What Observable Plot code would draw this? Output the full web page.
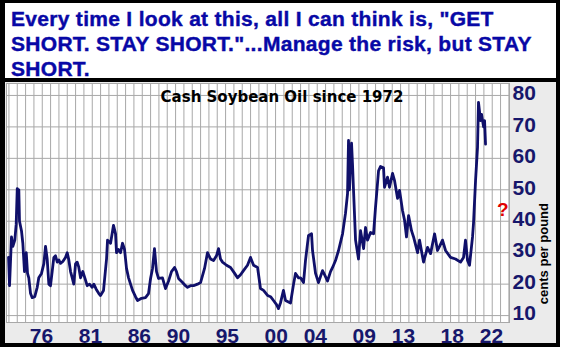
<!DOCTYPE html>
<html>
<head>
<meta charset="utf-8">
<script src="https://cdn.jsdelivr.net/npm/d3@7"></script>
<script src="https://cdn.jsdelivr.net/npm/@observablehq/plot@0.6"></script>
<style>
  html, body { margin: 0; padding: 0; background: #ffffff; }
  body { width: 563px; height: 352px; position: relative; overflow: hidden; }
  #frame { position: absolute; left: 0; top: 0; width: 560px; height: 347px; box-sizing: border-box;
           border-style: solid; border-color: #000; border-width: 3px 4px 4px 5px; background: #ebebeb; }
  #title { height: 79px; box-sizing: border-box; border-bottom: 4px solid #000; background: #fff;
           padding: 3px 0 0 6px; font-family: "Liberation Sans", Arial, sans-serif; font-weight: bold;
           font-size: 21px; line-height: 25px; letter-spacing: 0.3px; color: #0808a6; white-space: nowrap;
           -webkit-text-stroke: 0.4px #0808a6; }
  #chart { position: relative; height: 261px; }
  #chart svg { display: block; }
  #qmark { position: absolute; left: 492px; top: 117px; font-family: "Liberation Sans", Arial, sans-serif;
           font-weight: bold; font-size: 19px; color: #e00000; }
</style>
</head>
<body>
<div id="frame">
  <div id="title">Every time I look at this, all I can think is, "GET<br>SHORT. STAY SHORT."...Manage the risk, but STAY<br>SHORT.</div>
  <div id="chart"><div id="qmark">?</div></div>
</div>
<script>
// ---- data (decimal year, cents per pound) ----
const years = [
  1972.63,1972.73,1972.93,1973.07,1973.27,1973.41,1973.52,1973.60,1973.68,1973.75,1973.95,1974.09,1974.26,1974.44,1974.57,1974.70,1974.88,1975.05,1975.31,1975.56,1975.72,
  1976.00,1976.24,1976.41,1976.58,1976.75,1976.92,1977.09,1977.26,1977.43,1977.61,1977.77,1977.94,1978.18,1978.45,1978.63,1978.79,1978.97,1979.14,1979.30,1979.48,1979.65,1979.81,1979.99,
  1980.22,1980.43,1980.67,1980.91,1981.18,1981.35,1981.59,1981.86,1982.03,1982.34,1982.65,1982.75,1983.06,1983.36,1983.57,1983.67,1983.87,1984.08,1984.28,1984.49,1984.69,1984.90,
  1985.31,1985.61,1985.82,1986.23,1986.63,1986.94,1987.15,1987.35,1987.55,1987.76,1987.96,1988.37,1988.68,1988.99,1989.29,1989.60,1989.80,
  1990.01,1990.42,1990.72,1990.93,1991.24,1991.54,1991.95,1992.26,1992.67,1992.97,1993.28,1993.59,1993.89,1994.10,1994.30,1994.51,1994.92,1995.33,1995.73,
  1996.04,1996.35,1996.65,1997.06,1997.37,1997.68,1998.09,1998.39,1998.70,1999.11,1999.42,1999.72,2000.03,2000.23,2000.44,2000.74,2000.95,2001.46,2001.77,2001.97,
  2002.28,2002.48,2002.79,2002.99,2003.30,2003.61,2003.71,2004.02,2004.32,2004.73,2004.94,2005.24,2005.55,2005.76,2006.06,2006.37,2006.78,
  2007.08,2007.29,2007.39,2007.49,2007.60,2007.70,2007.80,2007.90,2008.11,2008.41,2008.62,2008.93,2009.13,2009.33,2009.64,2009.95,
  2010.15,2010.46,2010.66,2010.97,2011.07,2011.38,2011.58,2011.89,2012.09,2012.40,2012.61,2012.91,2013.12,2013.32,2013.53,2013.83,
  2014.04,2014.45,2014.65,2015.06,2015.47,2015.78,2016.19,2016.49,2016.70,2017.00,2017.31,2017.82,2018.33,2018.84,2019.15,2019.35,2019.56,2019.76,
  2020.07,2020.17,2020.38,2020.58,2020.68,2020.89,2020.99,2021.20,2021.30,2021.40
];
const prices = [
  28.5,19.5,35,32,34,39,50.4,44,50,40,37,33,24,30,23.4,22,17,15.7,16,19,22,
  23.4,26.5,32,28,20,19.5,24,28.5,29,27,27.7,26.6,27.2,28.5,30,27.7,24,22,20,26.5,27,25.4,22,
  24,22,19.5,20,19,20,18.4,17,16.4,18,28,34,33,38.7,36,30,31,30,33,31,25,22,
  18,16,14.8,15.5,15.7,17,21.8,25,31.3,24,21.8,22,18.6,21,24,25.3,24,
  21.8,20.5,19.5,19,19.5,19.5,20,20.5,25,30,28,27.5,29,31.3,28,27,26,25.3,23.5,
  22,23,24.3,26,28.5,26,25.3,18.6,18,16.4,16,14.8,13.5,12.2,14.1,18,14.8,14,20,23.4,
  22,22,20.5,27.5,35.5,36,30.7,23.4,20.5,24.3,23,21,24,25.3,27.5,30.7,36,
  42.5,48.8,65.7,50,60,64.8,58,50,34,28,37,31.3,38,34,36.4,36,
  44.4,56,57.4,57,50.8,54,50.8,55.2,53,47.3,49.8,43.4,40.3,35,41.8,37,
  35,30,34,27,31.7,29.7,36,30.7,32,34,30.7,28.5,28,27,28.5,34,27.5,26,
  35,39.3,53,63.5,77.8,72,74,70,72,64.5
];
const yTicks = [10, 20, 30, 40, 50, 60, 70, 80];
const xTickYears = [1976, 1981, 1986, 1990, 1995, 2000, 2004, 2009, 2013, 2018, 2022];
const chartTitle = "Cash Soybean Oil since 1972";
const yLabel = "cents per pound";

const data = years.map((t, i) => ({t, v: prices[i]}));
const xDomain = [1972.42, 2023.85];
const gridStep = 0.852;
const gridYears = d3.range(1973.52 - gridStep * 2, xDomain[1], gridStep).filter(d => d > xDomain[0]);

const navy = "#17176b";
const chart = Plot.plot({
  width: 551,
  height: 261,
  marginLeft: 1,
  marginRight: 47,
  marginTop: 1,
  marginBottom: 21,
  style: {fontFamily: "'Liberation Sans', Arial, sans-serif", background: "#ebebeb", overflow: "visible"},
  x: {domain: xDomain},
  y: {domain: [7.8, 83.8]},
  marks: [
    Plot.frame({fill: "#ffffff", stroke: "none"}),
    Plot.ruleX(gridYears, {stroke: "#a8a8a8", strokeWidth: 1}),
    Plot.ruleY(yTicks, {stroke: "#a8a8a8", strokeWidth: 1}),
    Plot.frame({stroke: "#a8a8a8", strokeWidth: 1}),
    Plot.line(data, {x: "t", y: "v", stroke: "#10106a", strokeWidth: 2.8, strokeLinejoin: "round"}),
    Plot.axisX({ticks: xTickYears, tickFormat: d => String(d).slice(2), tickSize: 0, tickPadding: 6,
                fontSize: 21, fontWeight: "bold", fill: navy, label: null}),
    Plot.axisY({anchor: "right", ticks: yTicks, tickSize: 0, tickPadding: 3, dy: -2,
                fontSize: 21, fontWeight: "bold", fill: navy, label: null}),
    Plot.text([chartTitle], {frameAnchor: "top", dx: 24, dy: 8, fontFamily: "'DejaVu Sans', sans-serif",
                fontWeight: "bold", fontSize: 15, fill: "#000"}),
    Plot.text([yLabel], {frameAnchor: "right", dx: 34, rotate: -90, fontWeight: "bold", fontSize: 13, fill: "#000"})
  ]
});
document.getElementById("chart").prepend(chart);
</script>
</body>
</html>
